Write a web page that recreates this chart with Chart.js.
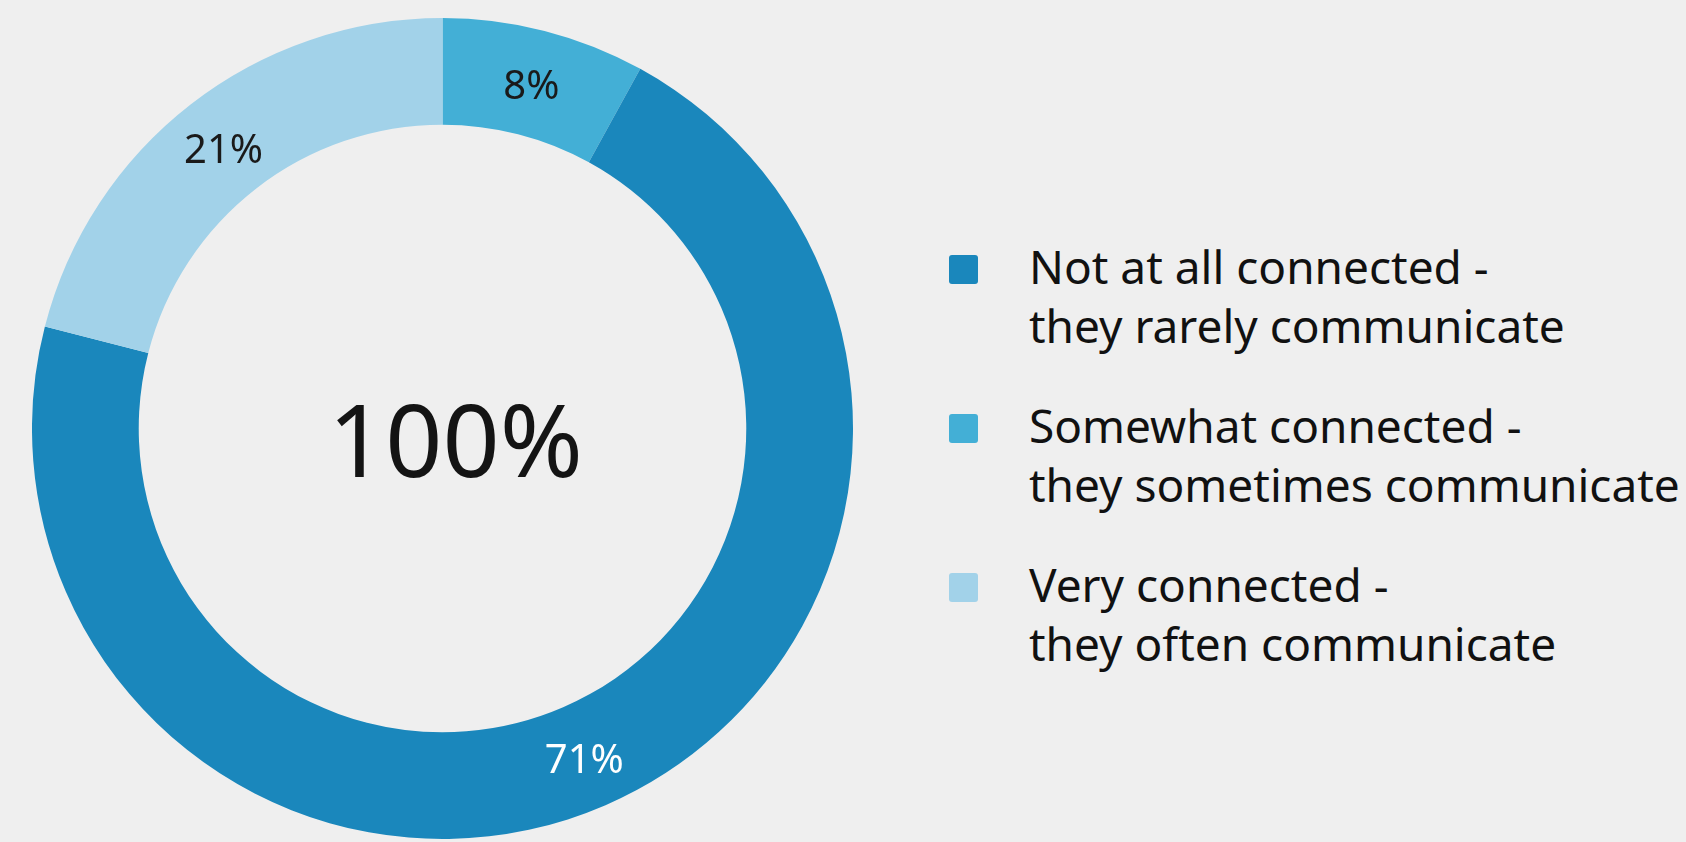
<!DOCTYPE html>
<html>
<head>
<meta charset="utf-8">
<script src="https://cdn.jsdelivr.net/npm/chart.js@4/dist/chart.umd.min.js"></script>
<style>
    html, body {
        margin: 0;
        padding: 0;
        width: 1686px;
        height: 842px;
        background: #efefef;
        overflow: hidden;
        font-family: 'Noto Sans', sans-serif;
    }
    #chartBox {
        position: absolute;
        left: 32px;
        top: 18px;
        width: 821px;
        height: 821px;
    }
    #legend {
        position: absolute;
        left: 949px;
        top: 237px;
    }
    .item {
        position: relative;
        padding-left: 80px;
        margin-bottom: 41px;
        font-size: 46px;
        line-height: 59px;
        color: #111;
        white-space: nowrap;
    }
    .swatch {
        position: absolute;
        left: 0;
        top: 18px;
        width: 29px;
        height: 29px;
        border-radius: 3px;
    }
</style>
</head>
<body>
<div id="chartBox"><canvas id="donut"></canvas></div>
<div id="legend"></div>

<script>
// drawing order is clockwise from the top
const segmentNames = ['Somewhat connected', 'Not at all connected', 'Very connected'];
const segmentValues = [8, 71, 21];
const segmentColors = ['#43afd6', '#1a87bc', '#a2d2e9'];
const labelColors = ['#1a1a1a', '#ffffff', '#1a1a1a'];
const centerText = '100%';

// legend is listed in a different order than the slices
const legendLines = [
    ['Not at all connected -', 'they rarely communicate'],
    ['Somewhat connected -', 'they sometimes communicate'],
    ['Very connected -', 'they often communicate']
];
const legendColors = ['#1a87bc', '#43afd6', '#a2d2e9'];

// build legend
const legendEl = document.getElementById('legend');
legendLines.forEach((lines, i) => {
    const item = document.createElement('div');
    item.className = 'item';
    const sw = document.createElement('span');
    sw.className = 'swatch';
    sw.style.background = legendColors[i];
    item.appendChild(sw);
    item.appendChild(document.createTextNode(lines[0]));
    item.appendChild(document.createElement('br'));
    item.appendChild(document.createTextNode(lines[1]));
    legendEl.appendChild(item);
});

// percent labels on the slices + big number in the middle
const labelPlugin = {
    id: 'sliceLabels',
    afterDatasetsDraw(chart) {
        const ctx = chart.ctx;
        const meta = chart.getDatasetMeta(0);
        ctx.save();
        ctx.textAlign = 'center';
        ctx.textBaseline = 'middle';
        ctx.font = "40px 'Noto Sans'";
        meta.data.forEach((arc, i) => {
            const pos = arc.tooltipPosition();
            ctx.fillStyle = labelColors[i];
            ctx.fillText(segmentValues[i] + '%', pos.x, pos.y + 5);
        });

        const first = meta.data[0];
        ctx.font = "100px 'Noto Sans'";
        ctx.fillStyle = '#141414';
        ctx.fillText(centerText, first.x + 13, first.y + 20);
        ctx.restore();
    }
};

new Chart(document.getElementById('donut').getContext('2d'), {
    type: 'doughnut',
    data: {
        labels: segmentNames,
        datasets: [{
            data: segmentValues,
            backgroundColor: segmentColors,
            borderWidth: 0
        }]
    },
    options: {
        responsive: true,
        maintainAspectRatio: false,
        animation: false,
        cutout: '74%',
        layout: { padding: 0 },
        plugins: {
            legend: { display: false },
            tooltip: { enabled: false }
        }
    },
    plugins: [labelPlugin]
});
</script>
</body>
</html>
